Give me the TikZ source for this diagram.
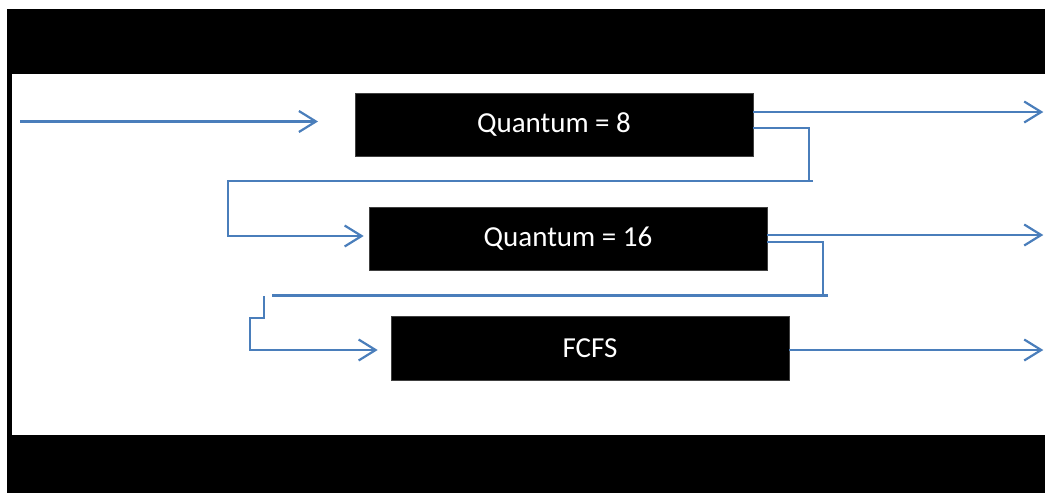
\documentclass[tikz,border=0pt]{standalone}
\usepackage{fontspec}
\setmainfont{Carlito}
\usetikzlibrary{arrows.meta,calc}
\definecolor{flowc}{RGB}{74,126,187}
\begin{document}
\begin{tikzpicture}[x=1pt,y=-1pt,
 box/.style={fill=black,draw=black!75,line width=0.6pt,minimum width=398pt,minimum height=63pt,inner sep=0pt,text=white,font=\fontsize{29}{34}\selectfont},
 flow/.style={draw=flowc,line width=2.2pt},
 arr/.style={flow,-{Straight Barb[length=17pt,width=21pt]}}]
\useasboundingbox (0,0) rectangle (1045,493);
\fill[black] (7,9) rectangle (1045,74);
\fill[black] (7,74) rectangle (12,435);
\fill[black] (7,435) rectangle (1045,493);
\node[box] (q8) at (554,124.5) {Quantum = 8};
\node[box] (q16) at (568,238.5) {Quantum = 16};
\node[box,minimum height=64pt] (fcfs) at (590,348) {FCFS};
\coordinate (in) at (20,121.5);
\coordinate (inend) at (318,121.5);
\draw[arr] (in) -- (inend);
\draw[arr] ([yshift=12.5pt]q8.east) -- ++(290,0);
\draw[flow] ([yshift=-3.5pt]q8.east) -- ++(56,0) -- ++(0,53);
\coordinate (fb1) at (813,181);
\draw[arr] (fb1) -- ++(-585,0) |- ([xshift=-5pt,yshift=2.5pt]q16.west);
\draw[arr] ([yshift=3.5pt]q16.east) -- ++(276,0);
\draw[flow] ([yshift=-3.5pt]q16.east) -- ++(56,0) -- ++(0,54);
\coordinate (fb2) at (828,295.5);
\draw[flow] (fb2) -- ++(-556,0);
\coordinate (fb3) at (264,296);
\draw[arr] (fb3) -- ++(0,22) -- ++(-14,0) |- ([xshift=-13pt,yshift=-2pt]fcfs.west);
\draw[arr] ([yshift=-2pt]fcfs.east) -- ++(254,0);
\end{tikzpicture}
\end{document}
